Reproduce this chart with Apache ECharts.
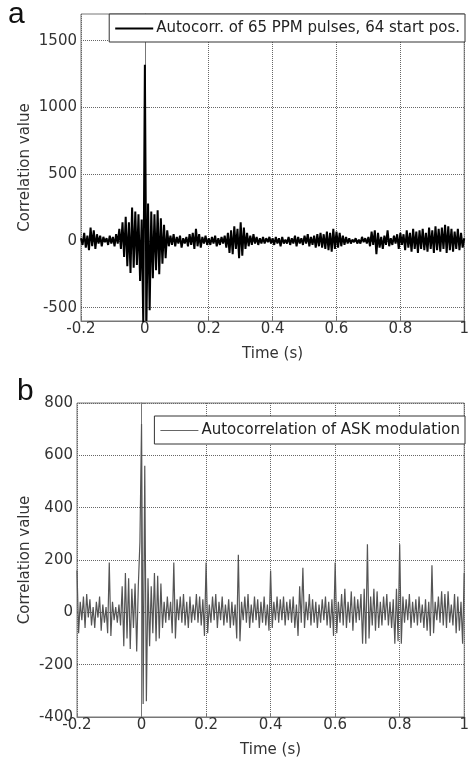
<!DOCTYPE html>
<html>
<head>
<meta charset="utf-8">
<script src="https://cdn.jsdelivr.net/npm/echarts@6/dist/echarts.min.js"></script>
<style>html,body{margin:0;padding:0;background:#fff}#c{width:472px;height:761px}</style>
</head>
<body>
<div id="c"></div>
<script>
// sampling of the time axis (s)
const timeStart = -0.2;
const timeStep = 0.005;

// panel a: autocorrelation of 65 PPM pulses, 64 start positions
const ppmValues = [
  20,-30,60,-50,40,-70,100,-40,80,-60,50,-20,40,-40,30,-10,20,-30,40,-20,
  30,-40,50,-20,90,-60,140,-120,180,-190,140,-240,250,-200,220,-180,200,-300,160,-620,
  1320,-600,280,-520,220,-280,200,-220,230,-250,170,-170,120,-130,80,-40,40,-30,50,-40,
  30,-20,40,-50,20,-20,30,-40,50,-30,60,-60,90,-40,50,-50,30,-20,40,-30,
  20,-30,30,-20,40,-40,20,-30,30,-20,40,-50,60,-90,80,-100,110,-60,90,-130,
  140,-110,100,-60,60,-40,40,-30,50,-20,30,-30,20,-20,30,-20,20,-10,30,-20,
  20,-30,30,-20,20,-40,30,-20,10,-20,30,-30,20,-20,40,-40,30,-20,20,-30,
  40,-20,50,-40,30,-30,40,-50,50,-40,60,-50,50,-60,70,-70,60,-80,90,-60,
  70,-50,60,-40,40,-30,30,-20,20,-20,10,-10,20,-20,10,-20,30,-10,20,-20,
  30,-40,70,-30,80,-100,60,-50,30,-60,40,-30,80,-40,20,-30,40,-20,50,-60,
  60,-30,50,-70,80,-50,60,-80,90,-60,70,-90,80,-60,90,-70,60,-80,100,-60,
  80,-90,110,-70,90,-80,100,-60,120,-90,110,-70,90,-80,70,-60,90,-70,60,-50,
  20
];

// panel b: autocorrelation of ASK modulation
const askValues = [
  160,-80,40,-30,60,-60,70,-20,50,-50,20,-60,40,-20,60,-70,30,-40,20,-80,
  190,-90,40,-30,20,-40,30,-50,100,-130,150,-100,130,-140,90,-60,110,-150,100,270,
  720,-350,560,-340,130,-130,100,-80,150,-110,140,-100,110,-60,40,-40,60,-30,40,-80,
  190,-100,50,-30,60,-40,70,-50,40,-60,60,-40,30,-30,70,-40,60,-50,50,-90,
  190,-80,30,-40,60,-30,70,-60,40,-30,60,-50,30,-40,50,-60,40,-50,30,-100,
  220,-110,40,-30,60,-40,70,-60,30,-40,60,-30,50,-60,40,-40,60,-50,30,-70,
  160,-60,40,-30,60,-40,50,-30,60,-50,40,-30,50,-40,60,-60,30,-90,100,-40,
  170,-60,40,-30,70,-50,50,-40,40,-60,30,-40,50,-30,60,-50,40,-60,50,-90,
  190,-80,40,-40,70,-50,90,-60,40,-40,80,-70,60,-40,50,-30,70,-120,90,-120,
  260,-100,60,-50,90,-70,80,-60,40,-50,60,-30,70,-50,40,-60,50,-120,90,-110,
  260,-120,60,-40,50,-30,70,-60,40,-40,50,-50,60,-40,30,-60,50,-70,40,-90,
  180,-80,40,-30,60,-40,80,-50,70,-60,80,-40,30,-50,70,-80,60,-70,40,-120,
  150
];

// tick labels of panel a's value axis
const ppmTicks = [-500, 0, 500, 1000, 1500];

const seriesNames = ['Autocorr. of 65 PPM pulses, 64 start pos.', 'Autocorrelation of ASK modulation'];

function toPairs(vals) {
  return vals.map((v, i) => [+(timeStart + i * timeStep).toFixed(4), v]);
}

const FONT = "'DejaVu Sans', sans-serif";
const FS = 15;
const txt = '#333';
const axisCol = '#777';
const gridCol = '#666';

function xAxisOf(gridIndex) {
  return {
    type: 'value', gridIndex, min: -0.2, max: 1, interval: 0.2,
    name: 'Time (s)', nameLocation: 'middle', nameGap: 26, nameMoveOverlap: false,
    nameTextStyle: { fontFamily: FONT, fontSize: FS, color: txt },
    axisLine: { show: true, onZero: false, lineStyle: { color: axisCol } },
    axisTick: { show: true, inside: true, length: 4, lineStyle: { color: axisCol } },
    axisLabel: { fontFamily: FONT, fontSize: FS, color: txt, margin: 1,
      formatter: v => String(+v.toFixed(2)) },
    splitLine: { show: true, lineStyle: { type: 'dotted', color: gridCol, width: 1 } }
  };
}

function legendOf(name, top, lineH) {
  return {
    data: [name], right: 7, top, orient: 'vertical',
    backgroundColor: '#fff', borderColor: '#333', borderWidth: 1,
    padding: [7, 5, 6, 6], itemWidth: 38, itemHeight: lineH, itemGap: 0,
    icon: 'rect',
    textStyle: { fontFamily: FONT, fontSize: FS, color: '#222', padding: [0, 0, 0, -2], lineHeight: 15 }
  };
}

const chart = echarts.init(document.getElementById('c'), null, { renderer: 'canvas' });
chart.setOption({
  animation: false,
  backgroundColor: '#fff',
  grid: [
    { left: 81, top: 14, width: 389, height: 307, show: true, borderColor: axisCol, borderWidth: 1, backgroundColor: 'transparent' },
    { left: 77, top: 403, width: 393, height: 314, show: true, borderColor: axisCol, borderWidth: 1, backgroundColor: 'transparent' }
  ],
  xAxis: [xAxisOf(0), xAxisOf(1)],
  yAxis: [
    {
      type: 'value', gridIndex: 0, min: -600, max: 1700,
      name: 'Correlation value', nameLocation: 'middle', nameGap: 48, nameMoveOverlap: false,
      nameTextStyle: { fontFamily: FONT, fontSize: FS, color: txt },
      axisLine: { show: true, lineStyle: { color: axisCol } },
      axisTick: { show: true, inside: true, length: 4, customValues: ppmTicks, lineStyle: { color: axisCol } },
      axisLabel: { fontFamily: FONT, fontSize: FS, color: txt, margin: 4, customValues: ppmTicks, formatter: v => String(v) },
      splitLine: { show: true, lineStyle: { type: 'dotted', color: gridCol, width: 1 } }
    },
    {
      type: 'value', gridIndex: 1, min: -400, max: 800, interval: 200,
      name: 'Correlation value', nameLocation: 'middle', nameGap: 44, nameMoveOverlap: false,
      nameTextStyle: { fontFamily: FONT, fontSize: FS, color: txt },
      axisLine: { show: true, lineStyle: { color: axisCol } },
      axisTick: { show: true, inside: true, length: 4, lineStyle: { color: axisCol } },
      axisLabel: { fontFamily: FONT, fontSize: FS, color: txt, margin: 4, formatter: v => String(v) },
      splitLine: { show: true, lineStyle: { type: 'dotted', color: gridCol, width: 1 } }
    }
  ],
  legend: [legendOf(seriesNames[0], 14, 2), legendOf(seriesNames[1], 416, 1)],
  graphic: [
    { type: 'text', left: 8, top: 0, style: { text: 'a', font: "30px 'Liberation Sans', Arial, sans-serif", fill: '#111' } },
    { type: 'text', left: 17, top: 377, style: { text: 'b', font: "30px 'Liberation Sans', Arial, sans-serif", fill: '#111' } }
  ],
  series: [
    {
      name: seriesNames[0], type: 'line', xAxisIndex: 0, yAxisIndex: 0,
      data: toPairs(ppmValues), symbol: 'none', showSymbol: false,
      lineStyle: { color: '#000', width: 2 }, itemStyle: { color: '#000' }, z: 3
    },
    {
      name: seriesNames[1], type: 'line', xAxisIndex: 1, yAxisIndex: 1,
      data: toPairs(askValues), symbol: 'none', showSymbol: false,
      lineStyle: { color: '#555', width: 1.2 }, itemStyle: { color: '#666' }, z: 3
    }
  ]
});
</script>
</body>
</html>
